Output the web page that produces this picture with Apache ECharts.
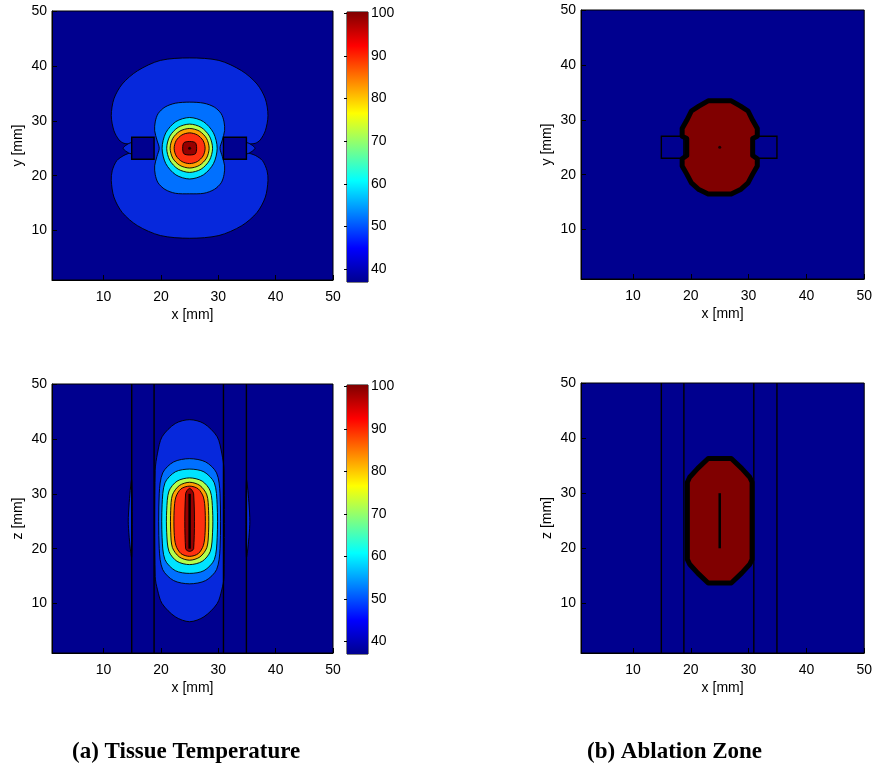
<!DOCTYPE html>
<html>
<head>
<meta charset="utf-8">
<title>Tissue temperature and ablation zone</title>
<script src="https://cdn.jsdelivr.net/npm/echarts@6/dist/echarts.min.js"></script>
<style>
  html, body { margin: 0; padding: 0; background: #fff; }
  #chart { width: 875px; height: 767px; }
</style>
</head>
<body>
<div id="chart"></div>
<script>
// axis ticks (mm) and colour bar ticks (deg C)
var axisTicks = [10, 20, 30, 40, 50];
var axisRange = [1, 50];
var colorTicks = [40, 50, 60, 70, 80, 90, 100];
var colorRange = [37, 100.3];

// isotherms in the xy plane, outer to inner
var xy45 = [[25,41.45],[30.1,41.0],[34.1,39.1],[36.75,36.7],[38.2,34.0],[38.66,30.95],[38.2,28.2],[37.3,26.5],[36.45,25.9],[34.9,25.6],
  [34.9,24.4],[36.45,23.7],[37.7,22.75],[38.5,20.9],[38.66,19.1],[38.2,16.1],[36.75,13.3],[34.1,10.9],[30.1,9.1],[25,8.6],
  [19.9,9.1],[15.9,10.9],[13.25,13.3],[11.8,16.1],[11.34,19.1],[11.5,20.9],[12.3,22.75],[13.55,23.7],[14.9,24.4],
  [14.9,25.6],[13.55,25.9],[12.7,26.5],[11.8,28.2],[11.34,30.95],[11.8,34.0],[13.25,36.7],[15.9,39.1],[19.9,41.0]];
var xyLensLeft = [[14.9,26.0],[13.4,25],[14.9,24.0]];
var xyLensRight = [[34.9,26.0],[36.4,25],[34.9,24.0]];
var xy50 = [[25,33.4],[27.5,33.2],[29.3,32.5],[30.5,31.3],[31,29.8],[31.1,28.2],[30.7,26.5],[30.3,25],[30.7,23.5],[31.1,21.8],
  [31,20.2],[30.5,18.7],[29.3,17.5],[27.5,16.8],[25,16.7],[22.5,16.8],[20.7,17.5],[19.5,18.7],[19,20.2],[18.9,21.8],
  [19.3,23.5],[19.7,25],[19.3,26.5],[18.9,28.2],[19,29.8],[19.5,31.3],[20.7,32.5],[22.5,33.2]];
var xy60 = [[29.8,25],[29.16,27.8],[27.4,29.85],[25,30.6],[22.6,29.85],[20.84,27.8],[20.2,25],[20.84,22.2],[22.6,20.15],[25,19.4],[27.4,20.15],[29.16,22.2]];
var xy70 = [[29,25],[28.46,27.2],[27,28.81],[25,29.4],[23,28.81],[21.54,27.2],[21,25],[21.54,22.8],[23,21.19],[25,20.6],[27,21.19],[28.46,22.8]];
var xy80 = [[28.4,25],[27.94,26.8],[26.7,28.12],[25,28.6],[23.3,28.12],[22.06,26.8],[21.6,25],[22.06,23.2],[23.3,21.88],[25,21.4],[26.7,21.88],[27.94,23.2]];
var xy90 = [[27.7,25],[27.34,26.4],[26.35,27.42],[25,27.8],[23.65,27.42],[22.66,26.4],[22.3,25],[22.66,23.6],[23.65,22.58],[25,22.2],[26.35,22.58],[27.34,23.6]];
var xy100 = [[24,26],[26,26],[26,24],[24,24]];
var xyLevels = [45, 45, 45, 50, 60, 70, 80, 90, 100];

// isotherms in the xz plane
var xz45 = [[25,43.5],[27.5,42.8],[29.8,40.4],[30.6,37.4],[31,34.3],[31,14.9],[30.6,12.5],[29.8,10],[27.5,7.6],[25,6.7],
  [22.5,7.6],[20.2,10],[19.4,12.5],[19,14.9],[19,34.3],[19.4,37.4],[20.2,40.4],[22.5,42.8]];
var xzLensLeft = [[14.9,32.5],[14.3,25],[14.9,18.5]];
var xzLensRight = [[34.9,32.5],[35.5,25],[34.9,18.5]];
var xz50 = [[25,36.4],[27.8,35.8],[29.7,33.8],[30.3,30],[30.3,20],[29.7,16.2],[27.8,14.2],[25,13.6],[22.2,14.2],[20.3,16.2],[19.7,20],[19.7,30],[20.3,33.8],[22.2,35.8]];
var xz60 = [[25,34.5],[27.5,34],[29.3,32],[29.8,28],[29.8,22],[29.3,18],[27.5,16],[25,15.5],[22.5,16],[20.7,18],[20.2,22],[20.2,28],[20.7,32],[22.5,34]];
var xz70 = [[25,32.9],[27.2,32.3],[28.6,30.5],[29,27],[29,23],[28.6,19.5],[27.2,17.7],[25,17.1],[22.8,17.7],[21.4,19.5],[21,23],[21,27],[21.4,30.5],[22.8,32.3]];
var xz80 = [[25,32.1],[26.8,31.5],[28,29.8],[28.3,27],[28.3,23],[28,20.2],[26.8,18.5],[25,17.9],[23.2,18.5],[22,20.2],[21.7,23],[21.7,27],[22,29.8],[23.2,31.5]];
var xz90 = [[25,31.4],[26.5,30.9],[27.4,29.4],[27.7,27],[27.7,23],[27.4,20.6],[26.5,19.1],[25,18.6],[23.5,19.1],[22.6,20.6],[22.3,23],[22.3,27],[22.6,29.4],[23.5,30.9]];
var xz100 = [[25,31],[25.7,30],[25.7,20],[25,19.5],[24.3,20],[24.3,30]];
var xzLevels = [45, 45, 45, 50, 60, 70, 80, 90, 100];

// ablation zone outlines
var ablationXY = [[23,33.45],[27,33.45],[28.6,32.5],[29.9,31.6],[30.7,29.9],[31.5,28.4],[31.5,27],[30.7,26.6],[30.7,23.5],[31.5,22.9],
  [31.5,21.6],[30.7,20.1],[29.9,18.5],[28.6,17.3],[27,16.5],[23,16.5],[21.4,17.3],[20.1,18.5],[19.3,20.1],[18.5,21.6],
  [18.5,22.9],[19.3,23.5],[19.3,26.6],[18.5,27],[18.5,28.4],[19.3,29.9],[20.1,31.6],[21.4,32.5]];
var ablationXZ = [[23,36.3],[27,36.3],[28.8,34.5],[30.2,32.9],[30.6,32.0],[30.6,18.0],[30.2,17.1],[28.8,15.5],[27,13.7],[23,13.7],
  [21.2,15.5],[19.8,17.1],[19.4,18.0],[19.4,32.0],[19.8,32.9],[21.2,34.5]];

// probes: boxes in xy plane, walls seen as lines in xz plane; electrode on the axis
var probeBoxes = [[14.9, 23, 18.8, 27], [30.9, 23, 34.9, 27]];
var probeWalls = [14.9, 18.8, 30.9, 34.9];
var electrodeTip = [25, 25];
var electrodeZ = [20, 30];

var levelColor = { 45: '#0628dc', 50: '#0070ff', 60: '#00e4ff', 70: '#b4ff4c', 80: '#ffa000', 90: '#ff3010', 100: '#960000' };
var navy = '#00008f';
var font = '"Liberation Sans", Arial, sans-serif';

var chart = echarts.init(document.getElementById('chart'));

function shapesSeries(idx, shapes, levels) {
  return {
    type: 'custom', xAxisIndex: idx, yAxisIndex: idx, clip: true,
    data: shapes.map(function (s) { return s[0]; }),
    renderItem: function (params, api) {
      var pts = shapes[params.dataIndex].map(function (p) { return api.coord(p); });
      return {
        type: 'polygon',
        shape: { points: pts, smooth: 0.3 },
        style: { fill: levelColor[levels[params.dataIndex]], stroke: '#000', lineWidth: 0.9 }
      };
    }
  };
}

function ablationSeries(idx, outline) {
  return {
    type: 'custom', xAxisIndex: idx, yAxisIndex: idx, clip: true,
    data: [outline[0]],
    renderItem: function (params, api) {
      return {
        type: 'polygon',
        shape: { points: outline.map(function (p) { return api.coord(p); }) },
        style: { fill: '#800000', stroke: '#000', lineWidth: 5, lineJoin: 'round' }
      };
    }
  };
}

function boxSeries(idx) {
  return {
    type: 'custom', xAxisIndex: idx, yAxisIndex: idx, clip: true,
    data: probeBoxes,
    renderItem: function (params, api) {
      var a = api.coord([api.value(0), api.value(3)]);
      var b = api.coord([api.value(2), api.value(1)]);
      return {
        type: 'rect',
        shape: { x: a[0], y: a[1], width: b[0] - a[0], height: b[1] - a[1] },
        style: { fill: navy, stroke: '#000', lineWidth: 1.4 }
      };
    }
  };
}

function wallSeries(idx) {
  return {
    type: 'custom', xAxisIndex: idx, yAxisIndex: idx, clip: true,
    data: probeWalls.map(function (x) { return [x, 25]; }),
    renderItem: function (params, api) {
      var a = api.coord([api.value(0), axisRange[1]]);
      var b = api.coord([api.value(0), axisRange[0]]);
      return { type: 'line', shape: { x1: a[0], y1: a[1], x2: b[0], y2: b[1] }, style: { stroke: '#000', lineWidth: 1.4 } };
    }
  };
}

function electrodeSeries(idx) {
  return {
    type: 'custom', xAxisIndex: idx, yAxisIndex: idx, clip: true,
    data: [[electrodeTip[0], electrodeZ[0]]],
    renderItem: function (params, api) {
      var a = api.coord([electrodeTip[0], electrodeZ[0]]);
      var b = api.coord([electrodeTip[0], electrodeZ[1]]);
      return { type: 'line', shape: { x1: a[0], y1: a[1], x2: b[0], y2: b[1] }, style: { stroke: '#000', lineWidth: 2.5 } };
    }
  };
}

function tipSeries(idx) {
  return {
    type: 'scatter', xAxisIndex: idx, yAxisIndex: idx, data: [electrodeTip],
    symbol: 'circle', symbolSize: 3, itemStyle: { color: '#000' }
  };
}

function colorbarSeries(idx) {
  return {
    type: 'custom', xAxisIndex: idx, yAxisIndex: idx,
    data: [[0, colorRange[0]]],
    renderItem: function (params, api) {
      var a = api.coord([0, colorRange[1]]);
      var b = api.coord([1, colorRange[0]]);
      return {
        type: 'rect',
        shape: { x: a[0], y: a[1], width: b[0] - a[0], height: b[1] - a[1] },
        style: {
          fill: new echarts.graphic.LinearGradient(0, 1, 0, 0, [
            { offset: 0, color: '#00008f' }, { offset: 0.125, color: '#0000ff' },
            { offset: 0.375, color: '#00ffff' }, { offset: 0.625, color: '#ffff00' },
            { offset: 0.875, color: '#ff0000' }, { offset: 1, color: '#800000' }
          ])
        }
      };
    }
  };
}

var labelStyle = { color: '#000', fontSize: 14, fontFamily: font };

function panelX(grid, name) {
  return {
    gridIndex: grid, type: 'value', min: axisRange[0], max: axisRange[1],
    name: name, nameLocation: 'middle', nameGap: 28, nameTextStyle: labelStyle,
    axisLine: { show: true, onZero: false, lineStyle: { color: '#000' } },
    axisTick: { inside: true, length: 5, customValues: axisTicks, lineStyle: { color: '#000' } },
    axisLabel: Object.assign({ customValues: axisTicks, margin: 10 }, labelStyle),
    splitLine: { show: false }
  };
}
function panelY(grid, name) {
  return {
    gridIndex: grid, type: 'value', min: axisRange[0], max: axisRange[1],
    name: name, nameLocation: 'middle', nameGap: 27, nameTextStyle: labelStyle,
    axisLine: { show: true, onZero: false, lineStyle: { color: '#000' } },
    axisTick: { inside: true, length: 5, customValues: axisTicks, lineStyle: { color: '#000' } },
    axisLabel: Object.assign({ customValues: axisTicks, margin: 5 }, labelStyle),
    splitLine: { show: false }
  };
}
function barX(grid) {
  return { gridIndex: grid, type: 'value', min: 0, max: 1, show: false };
}
function barY(grid) {
  return {
    gridIndex: grid, type: 'value', position: 'right', min: colorRange[0], max: colorRange[1],
    axisLine: { show: false },
    axisTick: { inside: true, length: 3, customValues: colorTicks, lineStyle: { color: '#000' } },
    axisLabel: Object.assign({ customValues: colorTicks, margin: 3 }, labelStyle),
    splitLine: { show: false }
  };
}

var plotGrid = { show: true, backgroundColor: navy, borderColor: '#000', borderWidth: 1 };
var barGrid = { show: true, backgroundColor: 'transparent', borderColor: '#000', borderWidth: 1 };

chart.setOption({
  animation: false,
  backgroundColor: '#fff',
  grid: [
    Object.assign({ left: 52, top: 11, width: 281, height: 269 }, plotGrid),
    Object.assign({ left: 347, top: 12, width: 21, height: 270 }, barGrid),
    Object.assign({ left: 52, top: 384, width: 281, height: 269 }, plotGrid),
    Object.assign({ left: 347, top: 385, width: 21, height: 269 }, barGrid),
    Object.assign({ left: 581, top: 10, width: 286, height: 269 }, plotGrid),
    Object.assign({ left: 581, top: 383, width: 286, height: 270 }, plotGrid)
  ],
  xAxis: [panelX(0, 'x [mm]'), barX(1), panelX(2, 'x [mm]'), barX(3), panelX(4, 'x [mm]'), panelX(5, 'x [mm]')],
  yAxis: [panelY(0, 'y [mm]'), barY(1), panelY(2, 'z [mm]'), barY(3), panelY(4, 'y [mm]'), panelY(5, 'z [mm]')],
  graphic: [
    { type: 'text', left: 72, top: 741, style: { text: '(a) Tissue Temperature', font: 'bold 23px "Liberation Serif", "Times New Roman", serif', fill: '#000' } },
    { type: 'text', left: 587, top: 741, style: { text: '(b) Ablation Zone', font: 'bold 23px "Liberation Serif", "Times New Roman", serif', fill: '#000' } }
  ],
  series: [
    shapesSeries(0, [xy45, xyLensLeft, xyLensRight, xy50, xy60, xy70, xy80, xy90, xy100], xyLevels),
    boxSeries(0),
    tipSeries(0),
    colorbarSeries(1),
    shapesSeries(2, [xz45, xzLensLeft, xzLensRight, xz50, xz60, xz70, xz80, xz90, xz100], xzLevels),
    wallSeries(2),
    electrodeSeries(2),
    colorbarSeries(3),
    boxSeries(4),
    ablationSeries(4, ablationXY),
    tipSeries(4),
    wallSeries(5),
    ablationSeries(5, ablationXZ),
    electrodeSeries(5)
  ]
});
</script>
</body>
</html>
